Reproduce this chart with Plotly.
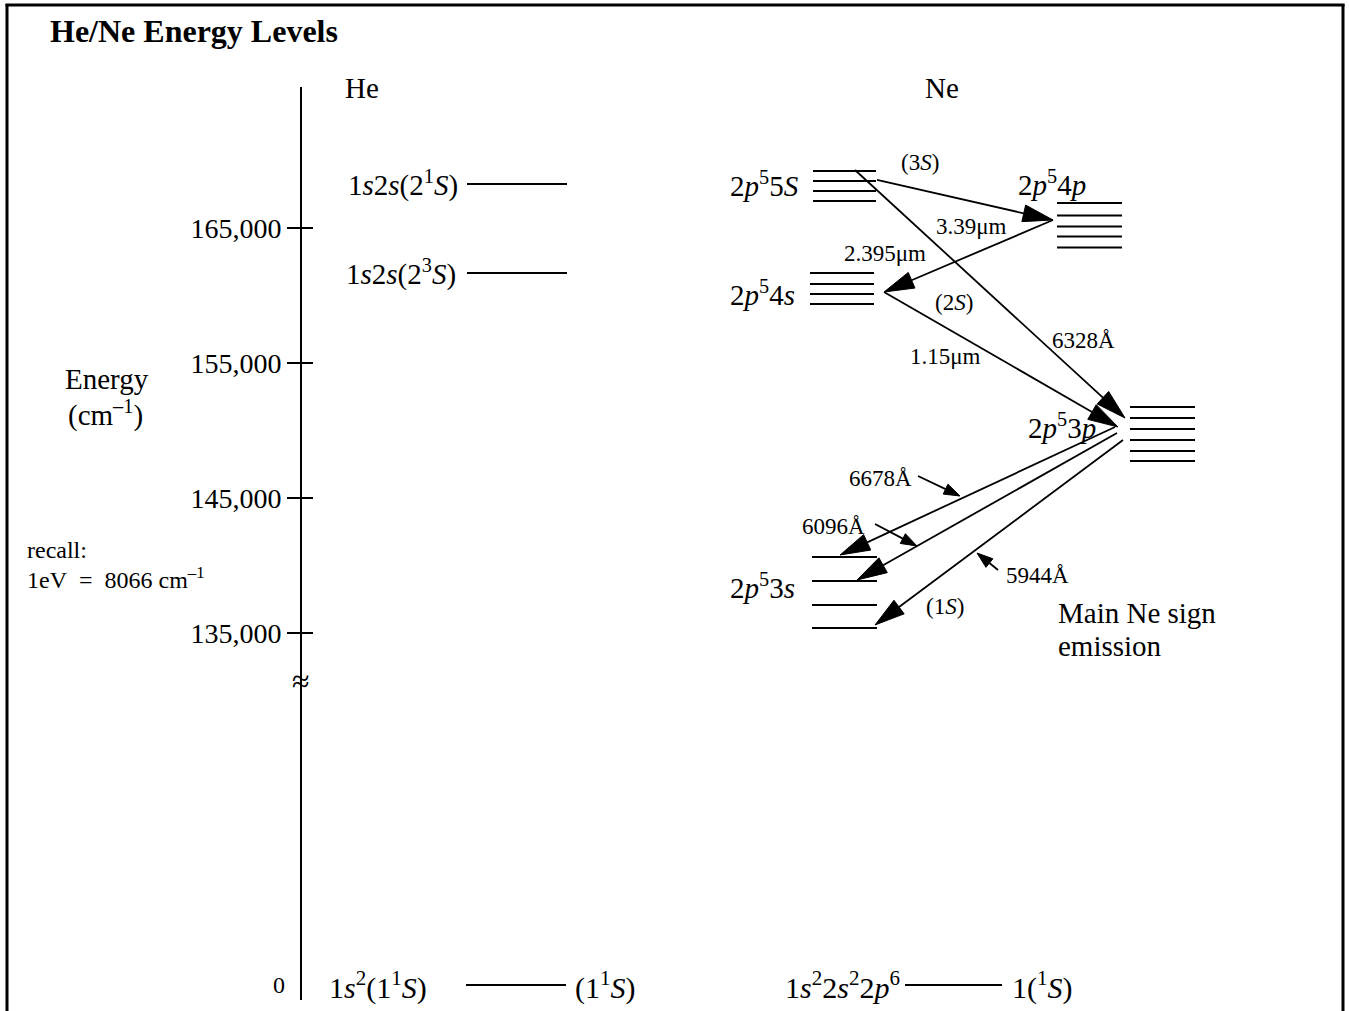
import plotly.graph_objects as go
import math

# ---------------- data ----------------
TICK_VALUES = [135000, 145000, 155000, 165000]
TICK_LABELS = ["135,000", "145,000", "155,000", "165,000"]

# energies (cm^-1, as drawn in the diagram)
HE_EXCITED = [168260, 161670]
HE_EXCITED_LABELS = ["1<i>s</i>2<i>s</i>(2<sup>1</sup><i>S</i>)",
                     "1<i>s</i>2<i>s</i>(2<sup>3</sup><i>S</i>)"]
NE_5S = [169222, 168481, 167741, 167000]
NE_4P = [166852, 165926, 165111, 164370, 163556]
NE_4S = [161667, 160852, 160111, 159370]
NE_3P = [151741, 150926, 150111, 149296, 148481, 147741]
NE_3S = [140630, 138852, 137074, 135370]
GROUND_ENERGY = 0

# transitions: (start energy, end energy)
TRANSITIONS = [
    (168556, 165593),   # 5S -> 4p  (3.39 um)
    (169296, 150926),   # 5S -> 3p  (6328 A)
    (165593, 160259),   # 4p -> 4s  (2.395 um)
    (160259, 150259),   # 4s -> 3p  (1.15 um)
    (150259, 140778),   # 3p -> 3s  (6678 A)
    (149815, 138926),   # 3p -> 3s  (6096 A)
    (149296, 135593),   # 3p -> 3s  (5944 A)
]
POINTERS = [
    (146630, 145148),   # 6678 A
    (143074, 141444),   # 6096 A
    (139667, 140926),   # 5944 A
]

# ---------------- layout / geometry (not data) ----------------
W, H = 1349, 1011
PX_PER_CM = 0.0135          # vertical scale
REF_E, REF_PX = 165000, 228  # 165,000 sits at this pixel row
GROUND_POS = 108926          # where E=0 is drawn below the axis break
AX_TOP_PX, AX_BOT_PX = 87, 1000
AXIS_X = 301


def e_of_px(py):
    return REF_E - (py - REF_PX) / PX_PER_CM


def px_of_e(e):
    return REF_PX + (REF_E - e) * PX_PER_CM


def disp(e):
    return GROUND_POS if e == 0 else e


Y_RANGE = [e_of_px(AX_BOT_PX), e_of_px(AX_TOP_PX)]
Y_DOMAIN = [(H - AX_BOT_PX) / H, (H - AX_TOP_PX) / H]

LEVEL_SPANS = {
    "he": (467, 567), "ne5s": (813, 876), "ne4p": (1057, 1122),
    "ne4s": (810, 874), "ne3p": (1130, 1195), "ne3s": (812, 877),
    "heg": (466, 566), "neg": (905, 1002),
}
TRANS_X = [(877, 1053), (855, 1125), (1053, 884), (884, 1118),
           (1115, 840), (1117, 857), (1123, 875)]
POINTER_X = [(918, 960), (875, 917), (998, 977)]

FONT = "Liberation Serif, Times New Roman, serif"
NB = "\u00a0"

fig = go.Figure()

# energy levels
lx, ly = [], []
for key, levels in [("he", HE_EXCITED), ("ne5s", NE_5S), ("ne4p", NE_4P),
                    ("ne4s", NE_4S), ("ne3p", NE_3P), ("ne3s", NE_3S),
                    ("heg", [GROUND_ENERGY]), ("neg", [GROUND_ENERGY])]:
    x0, x1 = LEVEL_SPANS[key]
    for e in levels:
        lx += [x0, x1, None]
        ly += [disp(e), disp(e), None]
fig.add_trace(go.Scatter(x=lx, y=ly, mode="lines",
                         line=dict(color="black", width=2),
                         hoverinfo="skip", showlegend=False))


def arrows(pairs, xs, head_len, head_w, lw):
    sx, sy, tx, ty = [], [], [], []
    for (e0, e1), (x0, x1) in zip(pairs, xs):
        p0 = (x0, px_of_e(e0))
        p1 = (x1, px_of_e(e1))
        dx, dy = p1[0] - p0[0], p1[1] - p0[1]
        L = math.hypot(dx, dy)
        ux, uy = dx / L, dy / L
        bx, by = p1[0] - head_len * ux, p1[1] - head_len * uy
        nx, ny = -uy, ux
        sx += [p0[0], bx, None]
        sy += [e0, e_of_px(by), None]
        for (qx, qy) in [p1, (bx + head_w * nx, by + head_w * ny),
                         (bx - head_w * nx, by - head_w * ny), p1]:
            tx.append(qx)
            ty.append(e_of_px(qy))
        tx.append(None)
        ty.append(None)
    fig.add_trace(go.Scatter(x=sx, y=sy, mode="lines",
                             line=dict(color="black", width=lw),
                             hoverinfo="skip", showlegend=False))
    fig.add_trace(go.Scatter(x=tx, y=ty, mode="lines", fill="toself",
                             fillcolor="black", line=dict(color="black", width=1),
                             hoverinfo="skip", showlegend=False))


arrows(TRANSITIONS, TRANS_X, 30, 8.5, 1.8)
arrows(POINTERS, POINTER_X, 16, 5.5, 1.8)

# secondary axis for the inward half of ticks
fig.add_trace(go.Scatter(x=[None], y=[None], yaxis="y2", showlegend=False,
                         hoverinfo="skip"))

ann = []


def A(text, x, y, xa="center", size=29, xref="x", yref="y", ya="middle", **kw):
    ann.append(dict(text=text, x=x, y=y, xref=xref, yref=yref, xanchor=xa,
                    yanchor=ya, showarrow=False,
                    font=dict(family=FONT, size=size, color="black"), **kw))


def P(text, px, py, xa="center", size=29, ya="middle", **kw):
    A(text, px / W, 1 - py / H, xa=xa, size=size, xref="paper", yref="paper",
      ya=ya, **kw)


P("<b>He/Ne Energy Levels</b>", 48, 31, xa="left", size=32)
P("He", 362, 88)
P("Ne", 942, 88)

A(HE_EXCITED_LABELS[0], 460, HE_EXCITED[0], xa="right")
A(HE_EXCITED_LABELS[1], 458, HE_EXCITED[1], xa="right")

A("Energy", 107, e_of_px(379))
A("(cm<sup>–1</sup>)", 105, e_of_px(413))
A("recall:", 25, e_of_px(550), xa="left", size=24)
A("1eV" + NB * 2 + "=" + NB * 2 + "8066 cm<sup>–1</sup>", 25,
  e_of_px(578), xa="left", size=24)
A("0", 287, GROUND_POS, xa="right", size=24)
A("≈", AXIS_X, e_of_px(681), size=32)

A("1<i>s</i><sup>2</sup>(1<sup>1</sup><i>S</i>)", 327, GROUND_POS, xa="left",
  size=30)
A("(1<sup>1</sup><i>S</i>)", 573, GROUND_POS, xa="left", size=30)
A("1<i>s</i><sup>2</sup>2<i>s</i><sup>2</sup>2<i>p</i><sup>6</sup>", 902,
  GROUND_POS, xa="right", size=30)
A("1(<sup>1</sup><i>S</i>)", 1010, GROUND_POS, xa="left", size=30)

A("2<i>p</i><sup>5</sup>5<i>S</i>", 801, e_of_px(184), xa="right")
A("(3<i>S</i>)", 920, e_of_px(163), size=23)
A("2<i>p</i><sup>5</sup>4<i>p</i>", 1052, e_of_px(183))
A("3.39μm", 971, e_of_px(227), size=23)
A("2.395μm", 885, e_of_px(254), size=23)
A("2<i>p</i><sup>5</sup>4<i>s</i>", 797, e_of_px(293), xa="right")
A("(2<i>S</i>)", 954, e_of_px(302), size=23)
A("6328Å", 1083, e_of_px(340), size=23)
A("1.15μm", 945, e_of_px(356), size=23)
A("2<i>p</i><sup>5</sup>3<i>p</i>", 1098, e_of_px(426), xa="right")
A("6678Å", 880, e_of_px(478), size=23)
A("6096Å", 833, e_of_px(526), size=23)
A("2<i>p</i><sup>5</sup>3<i>s</i>", 797, e_of_px(586), xa="right")
A("5944Å", 1037, e_of_px(575), size=23)
A("(1<i>S</i>)", 945, e_of_px(606), size=23)
A("Main Ne sign", 1056, e_of_px(613), xa="left")
A("emission", 1056, e_of_px(646), xa="left")

shapes = [
    dict(type="line", xref="paper", yref="paper", x0=7 / W, x1=7 / W,
         y0=0, y1=1 - 4 / H, line=dict(color="black", width=3)),
    dict(type="line", xref="paper", yref="paper", x0=1343 / W, x1=1343 / W,
         y0=0, y1=1 - 4 / H, line=dict(color="black", width=3)),
    dict(type="line", xref="paper", yref="paper", x0=5.5 / W, x1=1344.5 / W,
         y0=1 - 5 / H, y1=1 - 5 / H, line=dict(color="black", width=3)),
]

yax_common = dict(range=Y_RANGE, domain=Y_DOMAIN, anchor="free",
                  position=AXIS_X / W, showgrid=False, zeroline=False,
                  tickvals=TICK_VALUES, tickwidth=2, tickcolor="black",
                  fixedrange=True)

fig.update_layout(
    width=W, height=H, margin=dict(l=0, r=0, t=0, b=0),
    paper_bgcolor="white", plot_bgcolor="white",
    xaxis=dict(range=[0, W], visible=False, fixedrange=True),
    yaxis=dict(**yax_common, ticktext=TICK_LABELS, ticks="outside",
               ticklen=13, showline=True, linewidth=2, linecolor="black",
               tickfont=dict(family=FONT, size=28, color="black"),
               side="left"),
    yaxis2=dict(**yax_common, overlaying="y", ticks="inside", ticklen=11,
                showticklabels=False, showline=False, side="left"),
    annotations=ann, shapes=shapes, showlegend=False,
)

fig.write_html("out.html", config={"displayModeBar": False},
               post_script="document.body.style.margin='0';"
                           "document.body.style.overflow='hidden';")
